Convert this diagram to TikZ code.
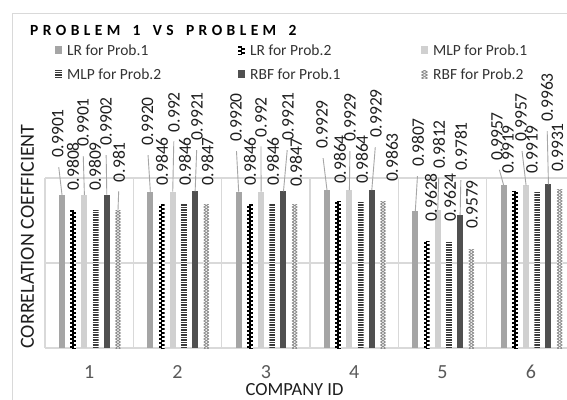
\documentclass[tikz,border=0pt]{standalone}
\usepackage{fontspec}
\setmainfont{Carlito}
\definecolor{lrone}{HTML}{A5A5A5}
\definecolor{mlpone}{HTML}{D0D0D0}
\definecolor{rbfone}{HTML}{505050}
\definecolor{gridc}{HTML}{D9D9D9}
\definecolor{leadc}{HTML}{A6A6A6}
\definecolor{txtc}{HTML}{1E1E1E}
\definecolor{legc}{HTML}{333333}
\definecolor{catc}{HTML}{595959}
\definecolor{hlc}{HTML}{3A3A3A}
\definecolor{zzc}{HTML}{8C8C8C}
\tikzset{
  gridline/.style={gridc, line width=1.3},
  leader/.style={leadc, line width=0.9, shorten >=9},
  vlabel/.style={rotate=90, anchor=east, inner sep=0, text=txtc, font=\fontsize{17.5}{20}\selectfont},
  legtext/.style={anchor=base west, inner sep=0, text=legc, font=\fontsize{15.5}{18}\selectfont},
  cattext/.style={anchor=base, inner sep=0, text=catc, font=\fontsize{20}{24}\selectfont},
  hlpat/.style={hlc, line width=1.1},
  zzpat/.style={zzc, line width=0.9},
}
\newcommand\wavefill[4]{%
  \begin{scope}
    \clip (#1,#2) rectangle (#3,#4);
    \fill[white] (#1,#2) rectangle (#3,#4);
    \foreach \yy in {30,34,...,354}{
      \fill[black] (#1,\yy) rectangle ({#1+0.62*(#3-#1)},\yy+2);
      \fill[black] ({#3-0.62*(#3-#1)},\yy+2) rectangle (#3,\yy+4);
    }
  \end{scope}}
\newcommand\hlfill[4]{%
  \begin{scope}
    \clip (#1,#2) rectangle (#3,#4);
    \fill[white] (#1,#2) rectangle (#3,#4);
    \foreach \yy in {30,32.5,...,354}{
      \draw[hlpat] (#1,\yy) -- (#3,\yy);
    }
  \end{scope}}
\newcommand\chainfill[4]{%
  \begin{scope}
    \clip (#1,#2) rectangle (#3,#4);
    \fill[white] (#1,#2) rectangle (#3,#4);
    \foreach \yy in {30,36,...,354}{
      \draw[zzpat] (#1+0.6,\yy) -- (#3-0.6,\yy+3) -- (#1+0.6,\yy+6);
      \draw[zzpat] (#3-0.6,\yy) -- (#1+0.6,\yy+3) -- (#3-0.6,\yy+6);
    }
  \end{scope}}
\newcommand\ls{\kern4.4pt}
\def\bardata{1/1/0.9901/57.7/109/1, 1/2/0.9808/73/142/0, 1/3/0.9901/83/98/1, 1/4/0.9809/95/142/0, 1/5/0.9902/106/97/1, 1/6/0.981/119/142/1,
2/1/0.9920/147.5/97/1, 2/2/0.9846/162/137/0, 2/3/0.992/174/92/1, 2/4/0.9846/185/137/0, 2/5/0.9921/197/92/1, 2/6/0.9847/207.5/137/0,
3/1/0.9920/236/93/1, 3/2/0.9846/250/137/0, 3/3/0.992/261/97/1, 3/4/0.9846/273/137/0, 3/5/0.9921/288/92/1, 3/6/0.9847/296/138/0,
4/1/0.9929/322/100/1, 4/2/0.9864/340/135/0, 4/3/0.9929/350/93/1, 4/4/0.9864/362/135/0, 4/5/0.9929/376/89/1, 4/6/0.9863/392/133/0,
5/1/0.9807/418/118/1, 5/2/0.9628/431/173/0, 5/3/0.9812/439/120/1, 5/4/0.9624/450/173/0, 5/5/0.9781/461/122/1, 5/6/0.9579/472/180/0,
6/1/0.9957/497/112/1, 6/2/0.9919/508/125/0, 6/3/0.9957/521/93/1, 6/4/0.9919/532/125/0, 6/5/0.9963/547/73/1, 6/6/0.9931/557.5/123/0}
\begin{document}
\begin{tikzpicture}[x=1pt,y=-1pt]
\useasboundingbox (0,0) rectangle (567,399);
\clip (0,0) rectangle (567,399);
\fill[white] (0,0) rectangle (567,399);
\draw[gridc, line width=1] (12.5,13.5) rectangle (600,430);
% title
\node[anchor=base west, inner sep=0, text=black, font=\fontsize{15.5}{18}\selectfont\bfseries] (title) at (30,35)
  {P\ls R\ls O\ls B\ls L\ls E\ls M\ls\ \ls 1\ls\ \ls V\ls S\ls\ \ls P\ls R\ls O\ls B\ls L\ls E\ls M\ls\ \ls 2};
% legend
\fill[lrone] (55,46) rectangle (62,54);
\node[legtext] (leg1) at (67,55) {LR for Prob.1};
\wavefill{238}{46}{245}{54}
\node[legtext] (leg2) at (250,55) {LR for Prob.2};
\fill[mlpone] (421,46) rectangle (428,54);
\node[legtext] (leg3) at (433,55) {MLP for Prob.1};
\hlfill{55}{70}{62}{78}
\node[legtext] (leg4) at (67,79) {MLP for Prob.2};
\fill[rbfone] (238,70) rectangle (245,78);
\node[legtext] (leg5) at (250,79) {RBF for Prob.1};
\chainfill{421}{70}{428}{78}
\node[legtext] (leg6) at (433,79) {RBF for Prob.2};
% grid
\foreach \gy in {178,263} \draw[gridline] (45,\gy) -- (580,\gy);
\foreach \c in {0,...,6} \draw[gridline] ({45+\c*88.333},178) -- ({45+\c*88.333},348);
\draw[gridline] (45,348) -- (580,348);
% bars
\foreach \kk/\ii/\val/\lx/\ltop/\ld in \bardata {
  \pgfmathsetmacro\cx{62+(\kk-1)*88.333+(\ii-1)*11.2}
  \pgfmathsetmacro\ty{348-(\val-0.9)*1700}
  \pgfmathsetmacro\xa{\cx-3}
  \pgfmathsetmacro\xb{\cx+3}
  \ifcase\ii\relax
  \or \fill[lrone] (\xa,\ty) rectangle (\xb,348);
  \or \wavefill{\xa}{\ty}{\xb}{348}
  \or \fill[mlpone] (\xa,\ty) rectangle (\xb,348);
  \or \hlfill{\xa}{\ty}{\xb}{348}
  \or \fill[rbfone] (\xa,\ty) rectangle (\xb,348);
  \or \chainfill{\xa}{\ty}{\xb}{348}
  \fi
}
% labels and leaders
\foreach \kk/\ii/\val/\lx/\ltop/\ld in \bardata {
  \pgfmathsetmacro\cx{62+(\kk-1)*88.333+(\ii-1)*11.2}
  \pgfmathsetmacro\ty{348-(\val-0.9)*1700}
  \coordinate (t-\kk-\ii) at (\cx,\ty);
  \node[vlabel] (l-\kk-\ii) at (\lx,\ltop) {\val};
  \ifnum\ld=1 \draw[leader] (t-\kk-\ii) -- (l-\kk-\ii.west);\fi
}
% category labels
\foreach \c in {1,...,6} \node[cattext] (cat\c) at ({45+(\c-0.5)*88.333},378) {\c};
% axis titles
\node[anchor=base, inner sep=0, text=txtc, font=\fontsize{18.5}{22}\selectfont] (xtitle) at (294.5,395) {COMPANY ID};
\node[rotate=90, inner sep=0, text=txtc, font=\fontsize{20}{24}\selectfont] (ytitle) at (27.5,236.5) {CORRELATION COEFFICIENT};
\end{tikzpicture}
\end{document}
